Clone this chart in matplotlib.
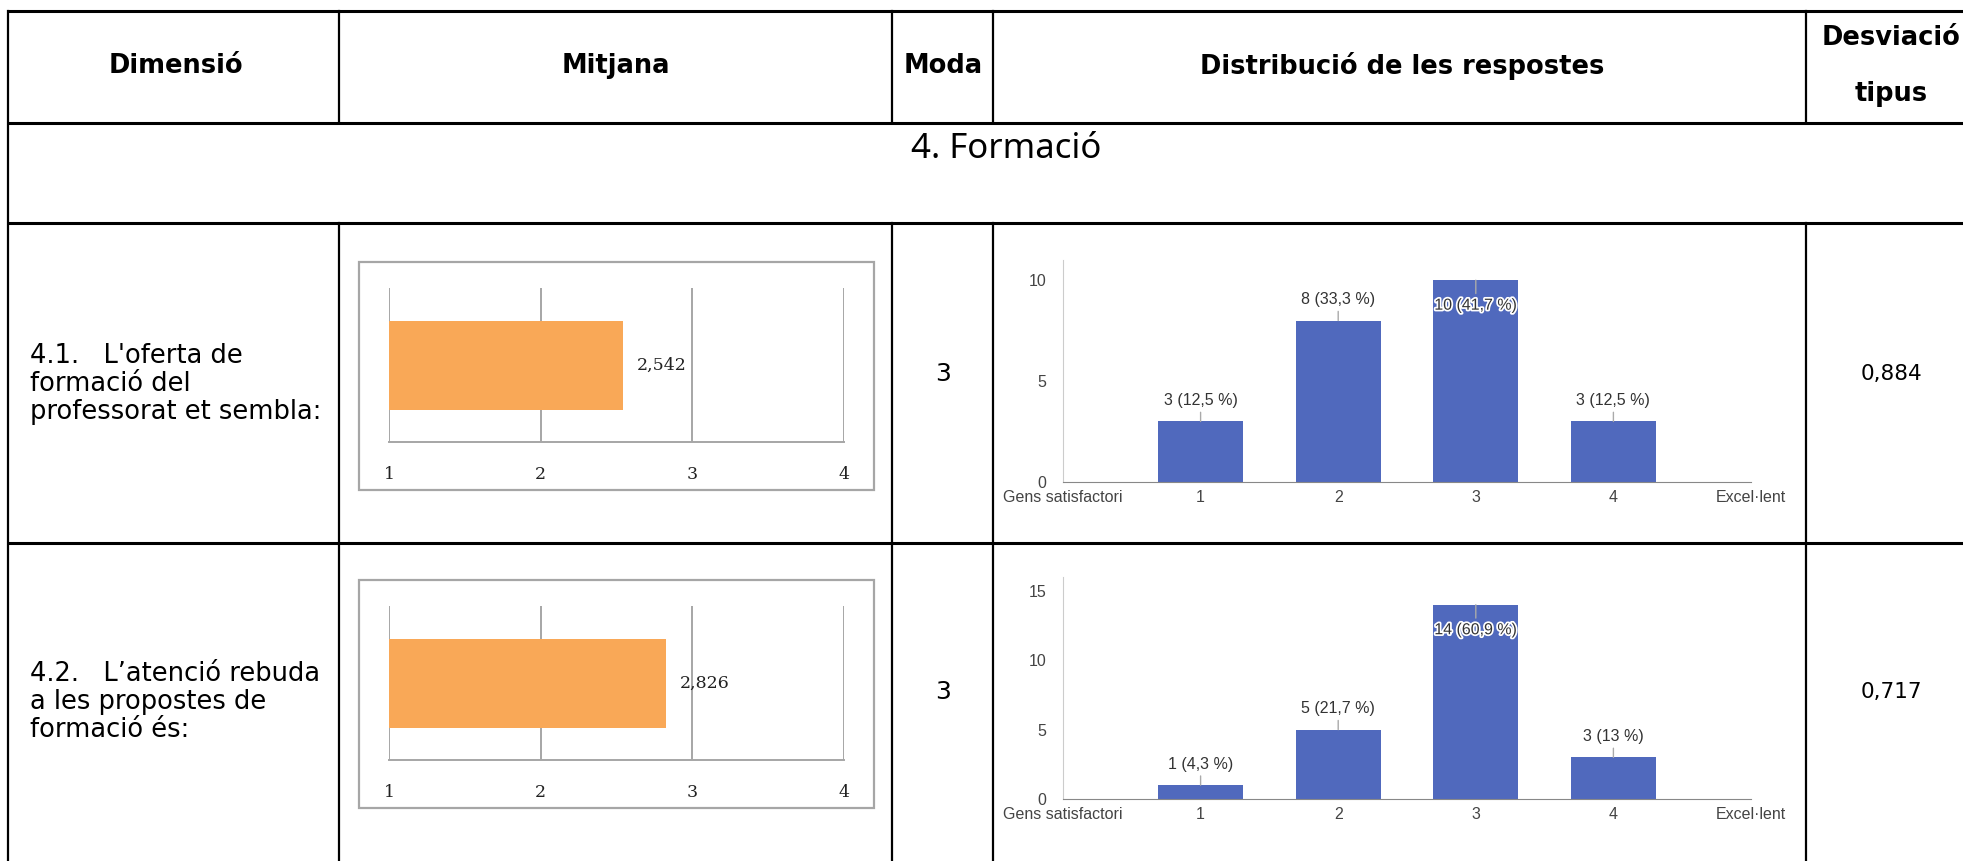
import matplotlib
matplotlib.use("Agg")
import matplotlib.pyplot as plt
from matplotlib.patches import Rectangle
from matplotlib import patheffects as pe

# values
headers = ["Dimensió", "Mitjana", "Moda", "Distribució de les respostes"]
section = "4. Formació"
dims = ["4.1.   L'oferta de\nformació del\nprofessorat et sembla:",
        "4.2.   L\u2019atenció rebuda\na les propostes de\nformació és:"]
means = [2.542, 2.826]
modes = [3, 3]
sds = ["0,884", "0,717"]
scale_ticks = [1, 2, 3, 4]
categories = ["Gens satisfactori", "1", "2", "3", "4", "Excel\u00b7lent"]
counts = [[3, 8, 10, 3], [1, 5, 14, 3]]
pcts = [["12,5", "33,3", "41,7", "12,5"], ["4,3", "21,7", "60,9", "13"]]
yticks = [[0, 5, 10], [0, 5, 10, 15]]
ymax = [11, 16]

W, H = 1963, 861
ORANGE = "#F9A857"
BLUE = "#5069BD"
GRID = "#a6a6a6"
BODY = ["DejaVu Sans"]
ARIAL = ["Liberation Sans", "DejaVu Sans"]

fig = plt.figure(figsize=(W / 100, H / 100), dpi=100)
bg = fig.add_axes([0, 0, 1, 1])
bg.set_xlim(0, W)
bg.set_ylim(H, 0)
bg.axis("off")


def rect(x0, y0, x1, y1):
    # pixel box (y from top) -> figure fraction
    return [x0 / W, 1 - y1 / H, (x1 - x0) / W, (y1 - y0) / H]


# table grid
hlw, vlw = 2.2, 1.6
col_x = [8, 339, 892, 993, 1806]
row_y = [11, 123, 223, 543]
for y in row_y:
    bg.plot([col_x[0], W + 5], [y, y], color="black", lw=hlw, solid_capstyle="butt")
bg.plot([col_x[0]] * 2, [row_y[0], H], color="black", lw=vlw)
for x in col_x[1:]:
    bg.plot([x, x], [row_y[0], row_y[1]], color="black", lw=vlw)
    bg.plot([x, x], [row_y[2], H], color="black", lw=vlw)

# header
hx = [176, 616, 943, 1402]
for x, t in zip(hx, headers):
    bg.text(x, 66, t, ha="center", va="center", fontsize=18.5, fontweight="bold", family=BODY)
bg.text(1891, 38, "Desviació", ha="center", va="center", fontsize=18.5, fontweight="bold", family=BODY)
bg.text(1891, 94, "tipus", ha="center", va="center", fontsize=18.5, fontweight="bold", family=BODY)
bg.text(1006, 149, section, ha="center", va="center", fontsize=25, family=["Noto Sans", "DejaVu Sans"])

row_off = 318
for i in range(2):
    off = i * row_off
    bg.text(30, 384 + off, dims[i], ha="left", va="center", fontsize=18.5,
            family=BODY, linespacing=1.08)
    bg.text(943, 374 + off, str(modes[i]), ha="center", va="center", fontsize=18, family=BODY)
    bg.text(1891, 374 + off, sds[i], ha="center", va="center", fontsize=15.5, family=BODY)

    # mean chart
    bg.add_patch(Rectangle((359, 262 + off), 874 - 359, 490 - 262, fill=False,
                           edgecolor=GRID, lw=1.6))
    ax = fig.add_axes(rect(389, 288 + off, 844, 442 + off))
    ax.barh(0.497, means[i] - 1, left=1, height=0.578, color=ORANGE)
    ax.set_xlim(1, 4)
    ax.set_ylim(0, 1)
    ax.set_xticks(scale_ticks)
    ax.set_yticks([])
    ax.grid(axis="x", color=GRID, lw=1.4)
    ax.set_axisbelow(True)
    for s in ["top", "right", "left"]:
        ax.spines[s].set_visible(False)
    ax.spines["bottom"].set_color(GRID)
    ax.spines["bottom"].set_linewidth(1.4)
    ax.tick_params(axis="x", length=0, pad=17, labelsize=12.5, labelcolor="#222")
    for lab in ax.get_xticklabels():
        lab.set_family("DejaVu Serif")
    ax.text(means[i] + 0.09, 0.5, f"{means[i]:.3f}".replace(".", ","), ha="left", va="center",
            fontsize=12.5, family="DejaVu Serif", color="#222")
    ax.patch.set_alpha(0)

    # distribution chart
    y_top = [260, 577][i]
    y_bot = [482, 799][i]
    dx = fig.add_axes(rect(1063, y_top, 1751, y_bot))
    xs = range(1, len(counts[i]) + 1)
    dx.bar(xs, counts[i], width=0.62, color=BLUE)
    dx.set_xlim(0, 5)
    dx.set_ylim(0, ymax[i])
    dx.set_xticks(range(len(categories)))
    dx.set_xticklabels(categories)
    dx.set_yticks(yticks[i])
    for s in ["top", "right"]:
        dx.spines[s].set_visible(False)
    dx.spines["left"].set_color("#cccccc")
    dx.spines["bottom"].set_color("#888888")
    dx.tick_params(length=0, labelsize=11.5, labelcolor="#444")
    dx.tick_params(axis="y", pad=12)
    dx.tick_params(axis="x", pad=6)
    for lab in dx.get_xticklabels() + dx.get_yticklabels():
        lab.set_family(ARIAL)
    dx.patch.set_alpha(0)
    top = max(counts[i])
    for x, c, p in zip(xs, counts[i], pcts[i]):
        inside = c == top
        dy = -18 if inside else 15
        dx.annotate(f"{c} ({p} %)", xy=(x, c), xytext=(0, dy), textcoords="offset points",
                    ha="center", va="center", fontsize=11.5, color="#333", family=ARIAL,
                    arrowprops=dict(arrowstyle="-", color="#aaaaaa", lw=1, shrinkA=1, shrinkB=0),
                    path_effects=[pe.withStroke(linewidth=2.5, foreground="white")] if inside else None)

fig.savefig("out.png", dpi=100)
